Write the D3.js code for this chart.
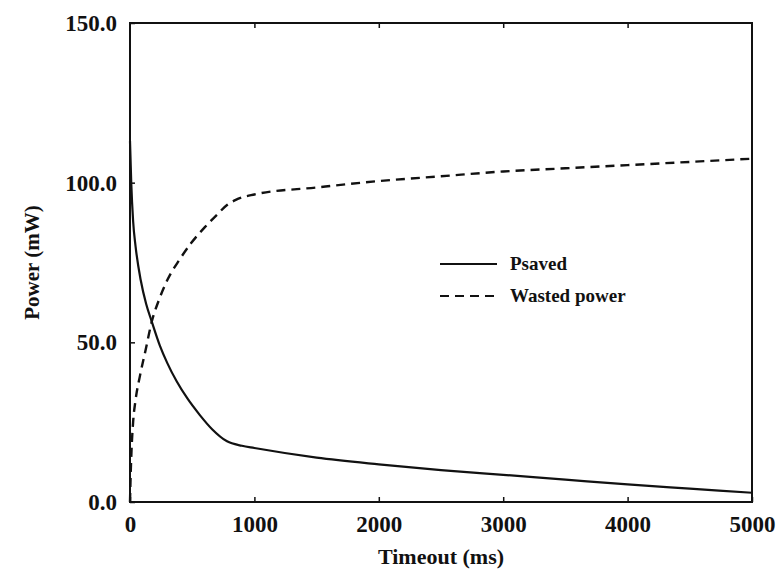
<!DOCTYPE html>
<html>
<head>
<meta charset="utf-8">
<script src="https://cdn.jsdelivr.net/npm/d3@7"></script>
<style>
  body { margin: 0; background: #fff; }
  text { font-family: "Liberation Serif", "DejaVu Serif", serif; fill: #111; }
</style>
</head>
<body>
<svg id="chart" width="780" height="570"></svg>
<script>
// timeout (ms) / Psaved (mW)
var savedT = [0, 10, 25, 45, 86, 130, 175, 240, 300, 375, 460, 560, 660, 780, 900, 1000, 1500, 2000, 2500, 3000, 3500, 4000, 4500, 5000];
var savedP = [113, 100, 88, 80, 69.5, 62, 56.5, 49, 43.5, 37.8, 32.5, 27.3, 22.8, 19, 17.6, 16.9, 13.9, 11.8, 10, 8.5, 7, 5.5, 4.2, 2.9];
// timeout (ms) / wasted power (mW)
var wastedT = [0, 5, 12, 25, 45, 80, 125, 175, 230, 300, 400, 490, 600, 700, 780, 850, 1000, 1500, 2000, 2500, 3000, 3500, 4000, 4500, 5000];
var wastedP = [0, 8, 16, 25, 32, 39.5, 47.5, 56.5, 63, 69.5, 76, 81, 86, 90, 93, 94.6, 96.3, 98.5, 100.5, 102, 103.5, 104.5, 105.5, 106.5, 107.5];
var xTicks = [0, 1000, 2000, 3000, 4000, 5000];
var yTicks = [0, 50, 100, 150];

var svg = d3.select('#chart');
var pLeft = 130, pRight = 752, pTop = 23, pBottom = 502;

var x = d3.scaleLinear().domain([0, 5000]).range([pLeft, pRight]);
var y = d3.scaleLinear().domain([0, 150]).range([pBottom, pTop]);

// frame
svg.append('rect')
  .attr('x', pLeft).attr('y', pTop)
  .attr('width', pRight - pLeft).attr('height', pBottom - pTop)
  .attr('fill', 'none').attr('stroke', '#111').attr('stroke-width', 2);

// axes (ticks pointing inward)
var xAxis = svg.append('g').attr('transform', 'translate(0,' + pBottom + ')')
  .call(d3.axisBottom(x).tickValues(xTicks).tickSizeInner(-5).tickSizeOuter(0).tickPadding(14).tickFormat(d3.format('d')));
var xTop = svg.append('g').attr('transform', 'translate(0,' + pTop + ')')
  .call(d3.axisTop(x).tickValues(xTicks.slice(1, -1)).tickSizeInner(-5).tickSizeOuter(0).tickFormat(''));
var yAxis = svg.append('g').attr('transform', 'translate(' + pLeft + ',0)')
  .call(d3.axisLeft(y).tickValues(yTicks).tickSizeInner(-5).tickSizeOuter(0).tickPadding(13).tickFormat(d3.format('.1f')));
[xAxis, xTop, yAxis].forEach(function(g) {
  g.select('.domain').remove();
  g.selectAll('line').attr('stroke', '#111').attr('stroke-width', 1.5);
  g.selectAll('text').attr('font-size', 23).attr('font-weight', 'bold')
    .style('font-family', '"Liberation Serif", serif').attr('fill', '#111');
});

// axis titles
svg.append('text')
  .attr('x', (pLeft + pRight) / 2).attr('y', 564)
  .attr('text-anchor', 'middle').attr('font-size', 22).attr('font-weight', 'bold')
  .text('Timeout (ms)');
svg.append('text')
  .attr('transform', 'translate(39,' + (pTop + pBottom) / 2 + ') rotate(-90)')
  .attr('text-anchor', 'middle').attr('font-size', 21).attr('font-weight', 'bold')
  .text('Power (mW)');

// curves
var line = d3.line().x(function(d){ return x(d[0]); }).y(function(d){ return y(d[1]); }).curve(d3.curveMonotoneX);
svg.append('path')
  .attr('d', line(d3.zip(savedT, savedP)))
  .attr('fill', 'none').attr('stroke', '#111').attr('stroke-width', 2.2);
svg.append('path')
  .attr('d', line(d3.zip(wastedT, wastedP)))
  .attr('fill', 'none').attr('stroke', '#111').attr('stroke-width', 2.4)
  .attr('stroke-dasharray', '9,6');

// legend
var legend = [
  { label: 'Psaved', dash: null, y: 264 },
  { label: 'Wasted power', dash: '9,6', y: 296 }
];
legend.forEach(function(l) {
  svg.append('line')
    .attr('x1', 440).attr('x2', 497).attr('y1', l.y).attr('y2', l.y)
    .attr('stroke', '#111').attr('stroke-width', 2.2)
    .attr('stroke-dasharray', l.dash);
  svg.append('text')
    .attr('x', 510).attr('y', l.y + 6)
    .attr('font-size', 19).attr('font-weight', 'bold')
    .text(l.label);
});
</script>
</body>
</html>
